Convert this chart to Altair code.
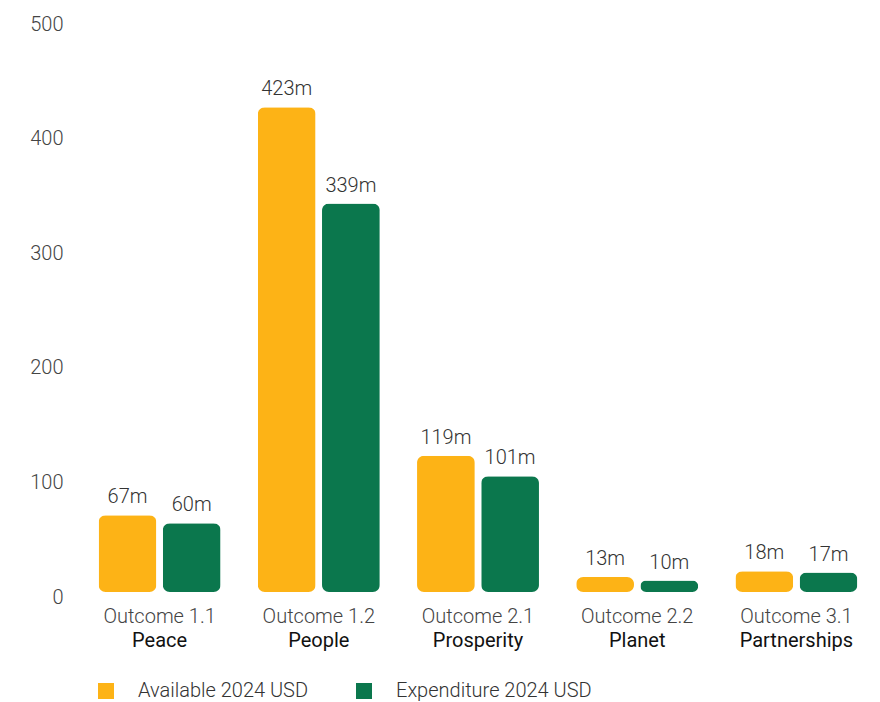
import altair as alt
import pandas as pd

outcomes = ["Outcome 1.1", "Outcome 1.2", "Outcome 2.1", "Outcome 2.2", "Outcome 3.1"]
names = ["Peace", "People", "Prosperity", "Planet", "Partnerships"]
series = ["Available 2024 USD", "Expenditure 2024 USD"]
available = [67, 423, 119, 13, 18]
expenditure = [60, 339, 101, 10, 17]
colors = ["#FDB316", "#0B774D"]

rows = []
for o, n, a, e in zip(outcomes, names, available, expenditure):
    rows.append({"outcome": o, "name": n, "series": series[0], "value": a, "label": f"{a}m"})
    rows.append({"outcome": o, "name": n, "series": series[1], "value": e, "label": f"{e}m"})
df = pd.DataFrame(rows)

name_map = "{" + ",".join(f"'{o}':'{n}'" for o, n in zip(outcomes, names)) + "}"

FONT = "Roboto"
FS = 20

x_main = alt.X(
    "outcome:N", sort=outcomes, title=None,
    scale=alt.Scale(paddingInner=0.234, paddingOuter=0.117),
    axis=alt.Axis(orient="bottom", domain=False, ticks=False, labelAngle=0,
                  labelPadding=14, labelFontSize=FS, labelFont=FONT,
                  labelFontWeight=300, labelColor="#444444"),
)
x_names = alt.X(
    "outcome:N", sort=outcomes, title=None,
    scale=alt.Scale(paddingInner=0.234, paddingOuter=0.117),
    axis=alt.Axis(orient="bottom", domain=False, ticks=False, labelAngle=0,
                  labelPadding=38, labelFontSize=FS, labelFont=FONT,
                  labelFontWeight=400, labelColor="#111111",
                  labelExpr=f"{name_map}[datum.value]"),
)

y = alt.Y("value:Q", title=None,
          scale=alt.Scale(domain=[0, 500], nice=False),
          axis=alt.Axis(values=[0, 100, 200, 300, 400, 500], domain=False, ticks=False,
                        grid=False, labelPadding=17, labelOffset=5, labelFontSize=FS,
                        labelFont=FONT, labelFontWeight=300, labelColor="#444444"))

xoff = alt.XOffset("series:N", sort=series,
                   scale=alt.Scale(paddingInner=0.1, paddingOuter=0))

color = alt.Color("series:N", sort=series,
                  scale=alt.Scale(domain=series, range=colors),
                  legend=alt.Legend(title=None, orient="none", legendX=16, legendY=662,
                                    direction="horizontal", symbolType="square",
                                    symbolSize=256, symbolStrokeWidth=0,
                                    labelFontSize=FS, labelFont=FONT, labelFontWeight=300,
                                    labelColor="#333333", labelOffset=22,
                                    columnPadding=45, labelLimit=300))

bars = alt.Chart(df).mark_bar(cornerRadius=7).encode(
    x=x_main, y=y, xOffset=xoff, color=color
)

text = alt.Chart(df).mark_text(dy=-8, fontSize=FS, font=FONT, fontWeight=300,
                               color="#333333", baseline="bottom").encode(
    x=x_names, y="value:Q", xOffset=xoff, text="label:N"
)

chart = alt.layer(bars, text).resolve_axis(x="independent").properties(
    width=796, height=573,
    autosize=alt.AutoSizeParams(type="none"),
    padding={"left": 80, "top": 19, "right": 4, "bottom": 110},
).configure_view(stroke=None).configure_axisY(grid=False).configure_axisX(grid=False)

chart.save("out.html", embed_options={"renderer": "svg", "actions": False})
